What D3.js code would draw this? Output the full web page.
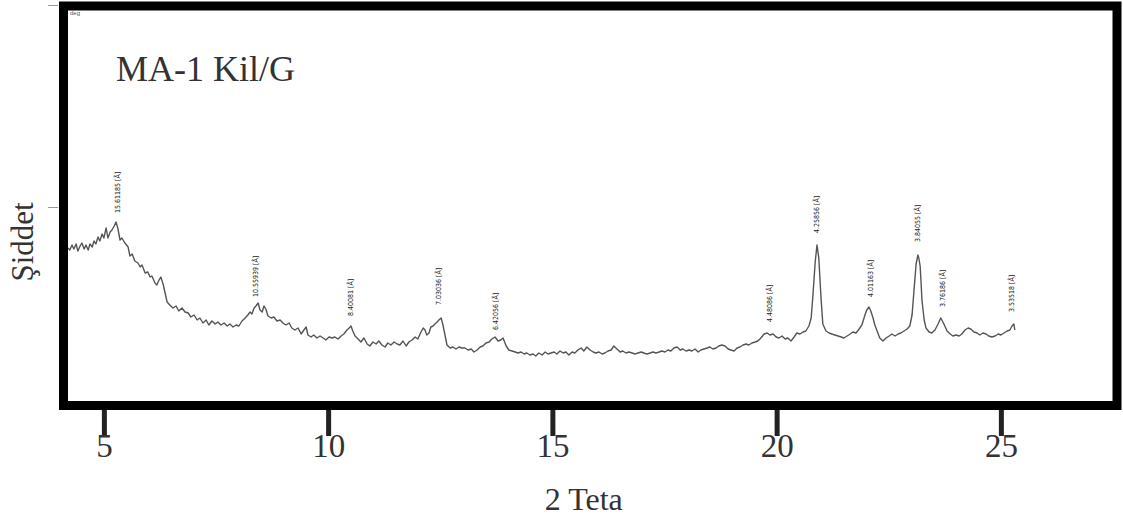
<!DOCTYPE html>
<html><head><meta charset="utf-8">
<script src="https://cdn.jsdelivr.net/npm/d3@7"></script>
<style>body{margin:0;background:#fff}</style>
</head><body><svg id="c" width="1123" height="528"></svg>
<script>
const twoTheta = [4.20,4.24,4.29,4.33,4.38,4.42,4.47,4.51,4.56,4.60,4.65,4.69,4.74,4.78,4.82,4.87,4.91,4.96,5.00,5.05,5.09,5.14,5.18,5.23,5.27,5.31,5.36,5.40,5.47,5.54,5.58,5.63,5.69,5.76,5.81,5.85,5.92,5.98,6.03,6.07,6.14,6.18,6.23,6.27,6.32,6.36,6.41,6.47,6.54,6.61,6.67,6.74,6.81,6.88,6.94,7.01,7.08,7.14,7.21,7.28,7.34,7.41,7.48,7.54,7.61,7.68,7.75,7.81,7.88,7.95,8.01,8.08,8.15,8.21,8.26,8.30,8.35,8.39,8.44,8.48,8.53,8.57,8.61,8.66,8.73,8.79,8.86,8.93,8.99,9.06,9.13,9.19,9.26,9.33,9.40,9.46,9.51,9.55,9.62,9.68,9.75,9.82,9.89,9.95,10.02,10.09,10.15,10.22,10.29,10.35,10.42,10.47,10.51,10.55,10.60,10.67,10.73,10.80,10.87,10.93,11.00,11.07,11.13,11.20,11.27,11.33,11.40,11.47,11.54,11.60,11.67,11.74,11.80,11.87,11.94,12.00,12.07,12.12,12.16,12.20,12.25,12.29,12.34,12.38,12.43,12.47,12.52,12.56,12.61,12.65,12.72,12.78,12.85,12.92,12.98,13.05,13.12,13.19,13.25,13.32,13.39,13.45,13.52,13.59,13.65,13.72,13.79,13.85,13.90,13.97,14.03,14.10,14.17,14.23,14.30,14.37,14.43,14.50,14.57,14.63,14.70,14.77,14.84,14.90,14.97,15.04,15.10,15.17,15.24,15.30,15.37,15.44,15.50,15.57,15.64,15.70,15.77,15.84,15.91,15.97,16.04,16.11,16.17,16.24,16.31,16.37,16.44,16.51,16.57,16.64,16.71,16.78,16.84,16.91,16.98,17.04,17.11,17.18,17.24,17.31,17.38,17.44,17.51,17.58,17.64,17.71,17.78,17.85,17.91,17.98,18.05,18.11,18.18,18.25,18.31,18.38,18.45,18.51,18.58,18.65,18.71,18.78,18.85,18.92,18.98,19.05,19.12,19.18,19.25,19.32,19.38,19.45,19.52,19.58,19.65,19.72,19.79,19.85,19.92,19.99,20.05,20.12,20.19,20.25,20.32,20.39,20.45,20.52,20.59,20.65,20.72,20.77,20.81,20.86,20.90,20.94,20.99,21.03,21.10,21.17,21.23,21.30,21.37,21.44,21.50,21.57,21.64,21.70,21.77,21.84,21.90,21.97,22.01,22.06,22.10,22.15,22.19,22.24,22.30,22.37,22.44,22.51,22.57,22.64,22.71,22.77,22.84,22.91,22.97,23.02,23.06,23.11,23.15,23.17,23.20,23.22,23.24,23.29,23.33,23.40,23.46,23.53,23.60,23.66,23.73,23.80,23.87,23.93,24.00,24.07,24.13,24.20,24.27,24.33,24.40,24.47,24.53,24.60,24.67,24.73,24.80,24.87,24.94,25.00,25.07,25.14,25.20,25.25,25.29,25.31];
const intensity = [154,152,157,153,158,151,156,159,153,157,152,158,155,161,158,165,161,168,164,174,164,170,172,176,180,174,162,164,159,155,146,148,141,139,135,137,129,130,125,126,119,117,122,125,118,110,100,97,94,96,91,94,90,89,85,87,82,84,79,82,77,81,78,80,77,79,76,78,75,77,76,81,84,87,90,88,94,96,99,92,90,96,93,86,84,85,81,82,79,77,79,74,72,74,68,72,75,67,65,67,64,66,64,62,65,64,65,63,66,68,72,74,76,71,66,63,60,64,58,56,60,58,61,57,55,59,57,60,58,57,61,56,60,62,65,63,70,74,72,67,69,75,76,78,80,82,84,77,66,57,54,55,53,55,54,54,52,53,50,52,55,56,59,60,63,65,61,62,64,56,52,51,50,49,50,48,49,47,48,46,49,47,50,48,49,50,48,51,49,50,47,50,49,52,54,51,55,52,50,49,50,48,49,51,52,56,53,50,51,49,50,49,48,49,50,49,48,49,50,49,50,51,50,52,51,54,55,52,53,51,52,51,53,50,52,53,54,55,53,54,56,57,56,53,52,51,54,55,57,58,57,59,60,61,64,68,69,67,68,65,64,66,63,64,61,65,69,68,70,71,76,84,107,140,157,144,104,78,71,69,68,67,66,65,64,66,68,70,69,73,77,87,92,95,91,84,77,71,64,61,64,66,68,66,68,69,71,73,76,87,110,138,147,144,136,120,102,82,74,70,69,72,78,84,78,71,68,66,67,66,68,72,74,73,70,69,67,69,68,66,65,66,68,67,69,71,72,76,78,72];
const xTicks = [5, 10, 15, 20, 25];
const yTicks = [195, 397];
const peakTheta = [5.31, 8.37, 10.49, 12.47, 13.74, 19.83, 20.90, 22.10, 23.13, 23.69, 25.23];
const peakBase = [189, 105, 86, 97, 72, 80, 169, 105, 160, 95, 90];
const peakLabels = ["15.61185 [Å]", "10.55939 [Å]", "8.40081 [Å]", "7.03036 [Å]", "6.42056 [Å]", "4.48086 [Å]", "4.25856 [Å]", "4.01163 [Å]", "3.84055 [Å]", "3.76186 [Å]", "3.53518 [Å]"];
const titleText = "MA-1 Kil/G";
const xLabel = "2 Teta";
const yLabel = "Şiddet";

const svg = d3.select("#c");
const serif = "'Liberation Serif','Times New Roman',serif";
const x = d3.scaleLinear().domain([4.2, 27.5]).range([68, 1113]);
const y = d3.scaleLinear().domain([0, 392]).range([402, 10]);

svg.append("rect").attr("width", 1123).attr("height", 528).attr("fill", "#fff");

// y ticks (unlabeled)
const ya = svg.append("g").attr("transform", "translate(58,0)")
  .call(d3.axisLeft(y).tickValues(yTicks).tickSize(10).tickFormat(""));
ya.select(".domain").remove();
ya.selectAll(".tick line").attr("stroke", "#999").attr("stroke-width", 1).attr("x2", 0).attr("x1", -10);

// curve
const pts = twoTheta.map((t, i) => [t, intensity[i]]);
svg.append("path").datum(pts)
  .attr("fill", "none").attr("stroke", "#555").attr("stroke-width", 1.4)
  .attr("stroke-linejoin", "round")
  .attr("d", d3.line().x(d => x(d[0])).y(d => y(d[1])));

// peak labels
svg.append("g").selectAll("text").data(peakTheta).join("text")
  .attr("transform", (d, i) => `translate(${x(d) + 2.5},${y(peakBase[i])}) rotate(-90)`)
  .attr("font-family", "'Liberation Sans Narrow','DejaVu Sans Condensed','Liberation Sans',sans-serif")
  .attr("font-size", 7).attr("fill", "#222")
  .text((d, i) => peakLabels[i]);

// frame
svg.append("rect").attr("x", 63.5).attr("y", 6).attr("width", 1053.5).attr("height", 399.5)
  .attr("fill", "none").attr("stroke", "#000").attr("stroke-width", 9);

// x axis
const xa = svg.append("g").attr("transform", "translate(0,410)")
  .call(d3.axisBottom(x).tickValues(xTicks).tickSize(26).tickPadding(0));
xa.select(".domain").remove();
xa.selectAll(".tick line").attr("stroke", "#222").attr("stroke-width", 5);
xa.selectAll(".tick text").attr("font-family", serif).attr("font-size", 33)
  .attr("fill", "#333").attr("y", 24).attr("dy", "0.71em");

// small corner text
svg.append("text").attr("x", 70).attr("y", 15).attr("font-size", 6)
  .attr("font-family", "sans-serif").attr("fill", "#555").text("deg");

// title
svg.append("text").attr("x", 116).attr("y", 81).attr("font-family", serif)
  .attr("font-size", 36).attr("fill", "#333").text(titleText);

// axis labels
svg.append("text").attr("x", x(15.7)).attr("y", 510).attr("text-anchor", "middle")
  .attr("font-family", serif).attr("font-size", 32).attr("fill", "#333").text(xLabel);
svg.append("text").attr("transform", "translate(33,242) rotate(-90)").attr("text-anchor", "middle")
  .attr("font-family", serif).attr("font-size", 31).attr("fill", "#333").text(yLabel);
</script>
</body></html>
